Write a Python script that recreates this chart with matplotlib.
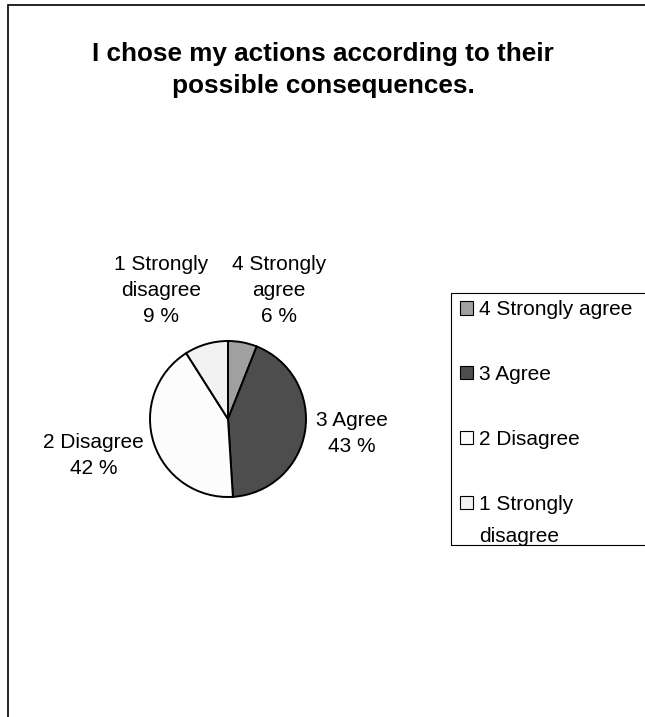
import matplotlib.pyplot as plt
from matplotlib.patches import Rectangle

plt.rcParams['font.family'] = ['Liberation Sans', 'DejaVu Sans']

title = 'I chose my actions according to their\npossible consequences.'
categories = ['4 Strongly agree', '3 Agree', '2 Disagree', '1 Strongly\ndisagree']
pie_labels = ['4 Strongly\nagree', '3 Agree', '2 Disagree', '1 Strongly\ndisagree']
values = [6, 43, 42, 9]
colors = ['#a0a0a0', '#4d4d4d', '#fcfcfc', '#f2f2f2']

# label positions in pie radius units (x, y)
label_pos = [(0.65, 1.65), (1.59, -0.19), (-1.72, -0.47), (-0.86, 1.65)]

W, H = 645, 717
fig = plt.figure(figsize=(W / 100, H / 100), dpi=100)

# outer chart frame (left and top edges visible)
fig.add_artist(Rectangle((8 / W, -0.5), 2.0, 1.5 - 5 / H, transform=fig.transFigure,
                         fill=False, edgecolor='black', linewidth=1.2))

fig.text(323 / W, 1 - 70 / H, title, ha='center', va='center', fontsize=18.8,
         fontweight='bold', linespacing=1.4)

cx, cy, R = 228, 419, 78
ax = fig.add_axes([(cx - R) / W, (H - cy - R) / H, 2 * R / W, 2 * R / H])
wedges, _ = ax.pie(values, colors=colors, startangle=90, counterclock=False,
                   wedgeprops=dict(edgecolor='black', linewidth=1.4))
ax.set_xlim(-1, 1)
ax.set_ylim(-1, 1)
ax.set_aspect('equal')

for lab, v, (x, y) in zip(pie_labels, values, label_pos):
    ax.text(x, y, f'{lab}\n{v} %', ha='center', va='center', fontsize=15,
            linespacing=1.45, clip_on=False)

# legend box runs past the right edge of the picture
fig.add_artist(Rectangle((451 / W, 1 - 545 / H), 1.0, 252 / H, transform=fig.transFigure,
                         fill=False, edgecolor='black', linewidth=0.8))
first_lines = [c.split('\n')[0] for c in categories]
leg = fig.legend(wedges, first_lines, loc='upper left',
                 bbox_to_anchor=(451 / W, 1 - 291 / H), fontsize=15,
                 frameon=False,
                 handlelength=0.6, handleheight=0.6, handletextpad=0.3,
                 labelspacing=2.2, borderpad=0.45, borderaxespad=0)
for h in leg.legend_handles:
    h.set_linewidth(0.8)

# wrapped legend lines go under their first line, as in the original
fig.canvas.draw()
inv = fig.transFigure.inverted()
for c, t in zip(categories, leg.get_texts()):
    rest = c.split('\n')[1:]
    if rest:
        bb = t.get_window_extent()
        x0, y0 = inv.transform((bb.x0, bb.y0))
        fig.text(x0, y0 - 32 / H, '\n'.join(rest), ha='left', va='bottom',
                 fontsize=15)

fig.savefig('out.png', dpi=100)
